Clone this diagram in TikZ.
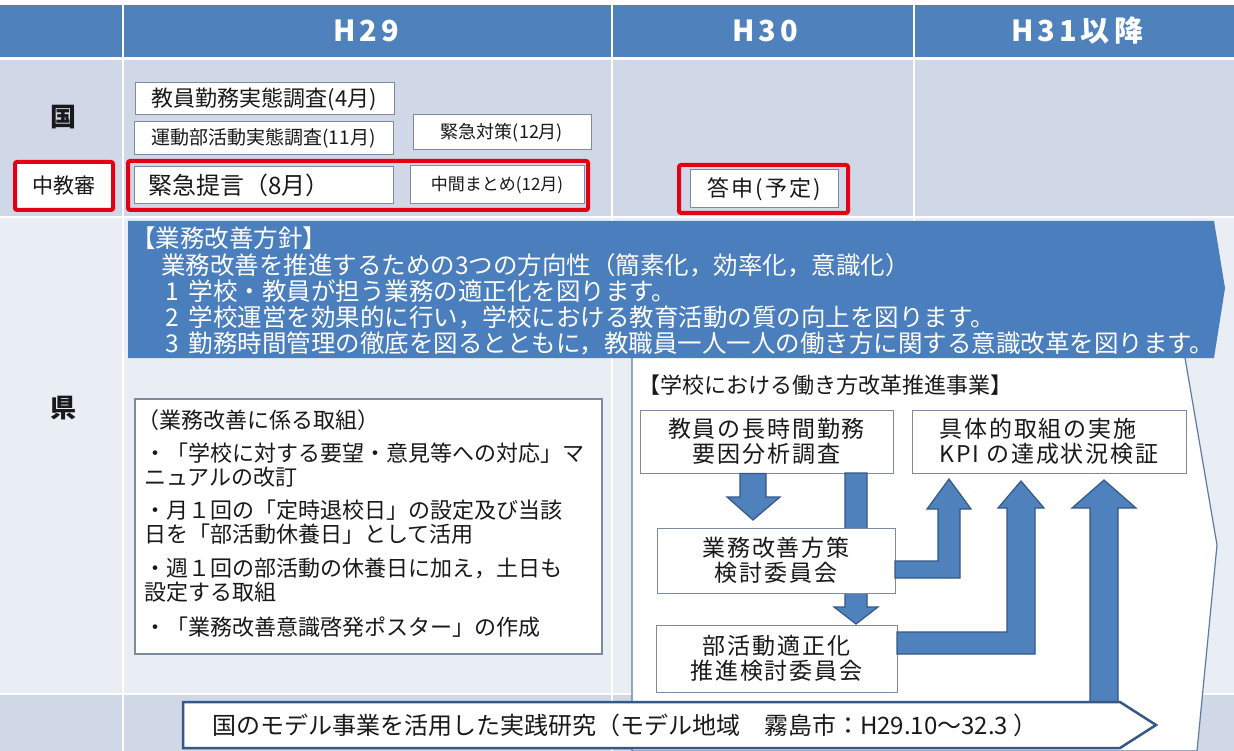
\documentclass[tikz,border=0pt]{standalone}
\usepackage{fontspec}
\setmainfont{Noto Sans CJK JP}
\definecolor{hdr}{RGB}{79,129,189}
\definecolor{rowA}{RGB}{208,216,232}
\definecolor{rowB}{RGB}{233,237,244}
\definecolor{bann}{RGB}{74,126,189}
\definecolor{afill}{RGB}{79,129,189}
\definecolor{aline}{RGB}{52,88,135}
\definecolor{bline}{RGB}{125,138,160}
\definecolor{redc}{RGB}{228,0,18}
\definecolor{pline}{RGB}{95,122,165}
\definecolor{txt}{RGB}{25,25,25}
\tikzset{
  hdrtext/.style={text=white, inner sep=0pt, font={\fontsize{29}{29}\selectfont\bfseries\addfontfeature{LetterSpace=14}}},
  rowlbl/.style={text=txt, inner sep=0pt, font={\fontsize{26}{26}\selectfont\bfseries}},
  wbox/.style={draw=bline, fill=white, line width=1pt, inner sep=0pt, align=center, text=txt},
  redframe/.style={draw=redc, line width=4pt, rounded corners=2pt},
  bantext/.style={anchor=west, inner sep=0pt, text=white, font={\fontsize{24.5}{24.5}\selectfont}},
  lbtext/.style={anchor=west, inner sep=0pt, align=left, text=txt, font={\fontsize{22}{24}\selectfont}},
  pbox/.style={wbox, font={\fontsize{23}{25}\selectfont\addfontfeature{LetterSpace=8}}},
  blk/.style={fill=afill, draw=aline, line width=1.2pt, line join=miter},
}
\begin{document}
\begin{tikzpicture}[x=1pt,y=-1pt]
\useasboundingbox (0,0) rectangle (1234,751);
\fill[white] (0,0) rectangle (1234,751);
% table background
\foreach \xa/\xb in {0/122,124/611,613/913,915/1234}{
  \fill[hdr] (\xa,5) rectangle (\xb,57);
  \fill[rowA] (\xa,60) rectangle (\xb,216);
  \fill[rowB] (\xa,218) rectangle (\xb,693);
  \fill[rowA] (\xa,695) rectangle (\xb,751);
}
\node[hdrtext] (h29) at (366,31) {H29};
\node[hdrtext] (h30) at (765,31) {H30};
\node[hdrtext] (h31) at (1077,31) {H31以降};
\node[rowlbl] (kuni) at (63,117) {国};
\node[rowlbl] (ken) at (63,408) {県};
% national row
\node[wbox, minimum width=259, minimum height=32, font={\fontsize{22}{22}\selectfont}] (k1) at (264.5,99) {教員勤務実態調査(4月)};
\node[wbox, minimum width=259, minimum height=33, font={\fontsize{19}{19}\selectfont}] (k2) at (263.5,138.5) {運動部活動実態調査(11月)};
\node[wbox, minimum width=178, minimum height=35, font={\fontsize{18}{18}\selectfont}] (k3) at (502,132.5) {緊急対策(12月)};
\node[wbox, draw=redc, line width=4pt, rounded corners=2pt, minimum width=98, minimum height=48, font={\fontsize{21}{21}\selectfont}] (chu) at (64,186) {中教審};
\draw[redframe] (128,161) rectangle (588,210);
\node[wbox, minimum height=37, text width=231, inner xsep=14pt, align=left, font={\fontsize{24}{24}\selectfont}] (k4) at (263.5,185.5) {緊急提言（8月）};
\node[wbox, minimum width=174, minimum height=38, font={\fontsize{17}{17}\selectfont}] (k5) at (497,185) {中間まとめ(12月)};
\draw[redframe] (679,165) rectangle (848,213);
\node[wbox, minimum width=148, minimum height=38, font={\fontsize{22}{22}\selectfont\addfontfeature{LetterSpace=10}}] (toshin) at (764,189) {答申(予定)};
% prefecture: pentagon and banner
\draw[fill=white, draw=pline, line width=1.2pt] (632,352) -- (1184,352) -- (1217,545) -- (1197,751) -- (632,751) -- cycle;
\fill[bann] (128,221) -- (1214,221) -- (1225,288) -- (1214,358) -- (128,358) -- cycle;
\node[bantext] (bn0) at (131,238) {【業務改善方針】};
\node[bantext] (bn1) at (161,265) {業務改善を推進するための3つの方向性（簡素化，効率化，意識化）};
\node[bantext] (bn2) at (165,291) {1\hspace{10pt}学校・教員が担う業務の適正化を図ります。};
\node[bantext] (bn3) at (165,317) {2\hspace{10pt}学校運営を効果的に行い，学校における教育活動の質の向上を図ります。};
\node[bantext] (bn4) at (165,343) {3\hspace{10pt}勤務時間管理の徹底を図るとともに，教職員一人一人の働き方に関する意識改革を図ります。};
% left box
\node[draw=bline, fill=white, line width=1.2pt, minimum width=467, minimum height=255, inner sep=0pt] (lbox) at (368.5,526.5) {};
\node[lbtext] (l0) at (137,420) {（業務改善に係る取組）};
\node[lbtext] (l1) at (144,465) {・「学校に対する要望・意見等への対応」マ\\ニュアルの改訂};
\node[lbtext] (l2) at (144,522.5) {・月１回の「定時退校日」の設定及び当該\\日を「部活動休養日」として活用};
\node[lbtext] (l3) at (144,580.5) {・週１回の部活動の休養日に加え，土日も\\設定する取組};
\node[lbtext] (l4) at (144,627) {・「業務改善意識啓発ポスター」の作成};
% right: school reform project
\node[anchor=west, inner sep=0pt, text=txt, font={\fontsize{22}{22}\selectfont}] (ptitle) at (638,385) {【学校における働き方改革推進事業】};
\node[pbox, minimum width=253, minimum height=63] (b1) at (766.5,441.5) {教員の長時間勤務\\要因分析調査};
\node[pbox, minimum width=274, minimum height=63, align=left] (b2) at (1049,441.5) {具体的取組の実施\\KPI の達成状況検証};
% long arrow behind b3
\draw[blk] (845,473) -- (867,473) -- (867,607) -- (878,607) -- (856,624) -- (834,607) -- (845,607) -- cycle;
\node[pbox, minimum width=238, minimum height=65] (b3) at (776,560.5) {業務改善方策\\検討委員会};
\node[pbox, minimum width=241, minimum height=67] (b4) at (776.5,658.5) {部活動適正化\\推進検討委員会};
% block arrows
\draw[blk] (740,473.5) -- (766,473.5) -- (766,497) -- (780,497) -- (753,520) -- (727,497) -- (740,497) -- cycle;
\draw[blk] (895,561) -- (938,561) -- (938,509) -- (927,509) -- (949,479) -- (971,509) -- (960,509) -- (960,578) -- (895,578) -- cycle;
\draw[blk] (897,632) -- (1007,632) -- (1007,508) -- (998,508) -- (1021,481) -- (1044,508) -- (1035,508) -- (1035,654) -- (897,654) -- cycle;
\draw[blk] (1090,703) -- (1090,508) -- (1072,508) -- (1104,480) -- (1136,508) -- (1118,508) -- (1118,703) -- cycle;
% bottom arrow
\draw[fill=white, draw=aline, line width=2.5pt, line join=miter] (183,702) -- (1120,702) -- (1156,725) -- (1120,748) -- (183,748) -- cycle;
\node[anchor=west, inner sep=0pt, text=txt, font={\fontsize{24}{24}\selectfont}] (bt) at (212,725) {国のモデル事業を活用した実践研究（モデル地域　霧島市：H29.10～32.3 ）};
\end{tikzpicture}
\end{document}
